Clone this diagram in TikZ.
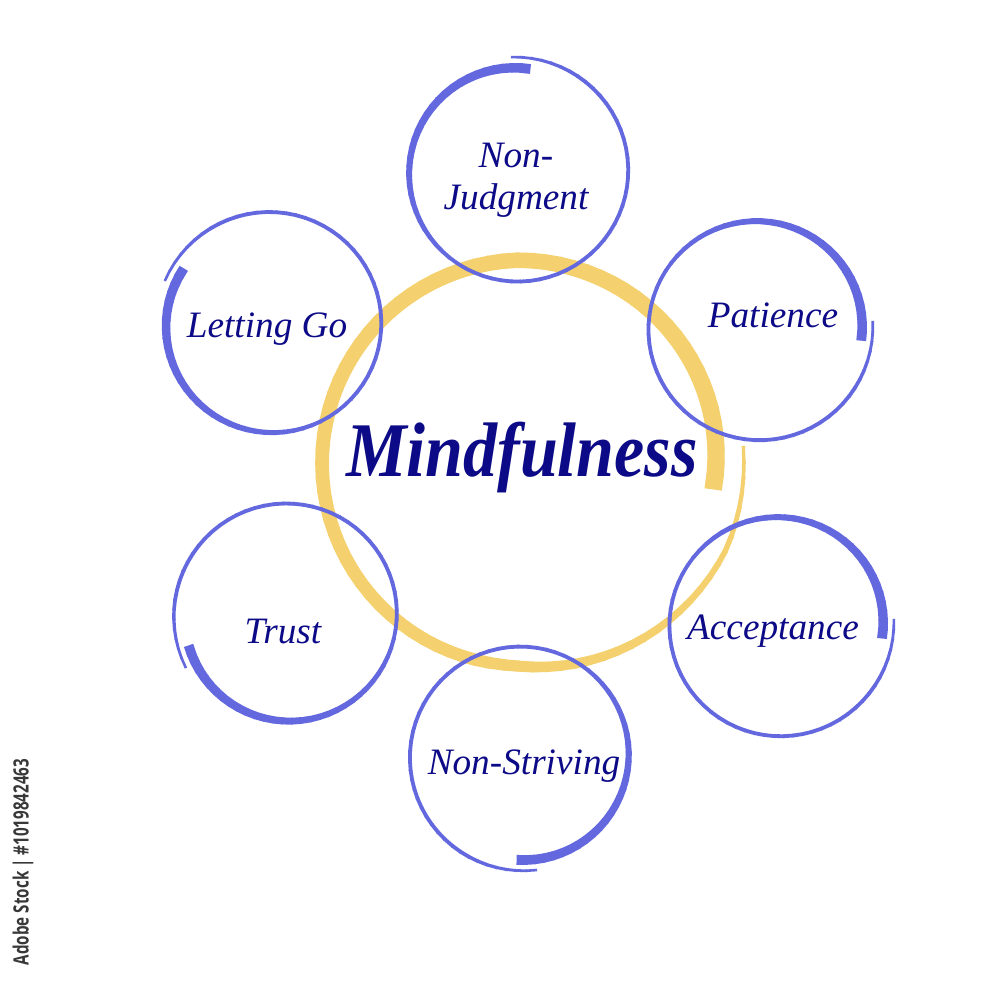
\documentclass[tikz,border=0pt]{standalone}
\usepackage{fontspec}
\setmainfont{Liberation Serif}
\setsansfont{Open Sans}
\usetikzlibrary{positioning}

\definecolor{ringblue}{RGB}{99,104,222}
\definecolor{ringgold}{RGB}{244,209,110}
\definecolor{inknavy}{RGB}{12,10,135}

\begin{document}
\begin{tikzpicture}[x=0.1mm, y=0.1mm,
	gold stroke/.style={ringgold, line cap=butt},
	blue stroke/.style={ringblue, line cap=butt},
	ring label/.style={text=inknavy, inner sep=0pt, font=\fontsize{10.6}{12}\selectfont\itshape},
	core label/.style={text=inknavy, inner sep=0pt, font=\fontsize{22}{24}\selectfont\bfseries\itshape},
	stock mark/.style={text=black!78, inner sep=0pt, font=\sffamily\bfseries\fontsize{6}{7}\selectfont}]
	\useasboundingbox[fill=white] (0,0) rectangle (1000,1000);
	
	% Anillo dorado (trazo de pincel que se va afinando)
	\foreach \ang in {0,4,...,368} {
		\pgfmathsetmacro{\rin}{190+13*min(\ang,100)/100+16*min(max(\ang-275,0),70)/70}
		\pgfmathsetmacro{\rout}{190+13*min(\ang+4.5,100)/100+16*min(max(\ang+4.5-275,0),70)/70}
		\pgfmathsetmacro{\wid}{(\ang<260 ? 17.5-0.02*\ang : 12.3-9.3*(\ang-260)/112)*0.2845}
		\draw[gold stroke, line width=\wid pt, shift={(525,537)}] (-8+\ang:\rin) -- (-8+\ang+4.5:\rout);
	}
	
	% Anillos azules alrededor
	\foreach \cx/\cy/\st in {516/828/82, 758/672/-7, 779/376/-8, 522/244/267, 288/385/197, 271/675/147} {
		\foreach \ang in {0,5,...,365} {
			\pgfmathsetmacro{\rin}{104+11*\ang/370}
			\pgfmathsetmacro{\rout}{104+11*(\ang+5.5)/370}
			\pgfmathsetmacro{\wid}{(\ang<150 ? 9.8-6*\ang/150 : (\ang>330 ? 3.8-1.2*(\ang-330)/35 : 3.8))*0.2845}
			\draw[blue stroke, line width=\wid pt, shift={(\cx,\cy)}] (\st+\ang:\rin) -- (\st+\ang+5.5:\rout);
		}
	}
	
	% Textos
	\node[core label, anchor=base] (mindful) at (522,523) {\scalebox{0.88}[1]{Mindfulness}};
	\node[ring label, align=center] (nonjudg) at (516,820) {Non-\\Judgment};
	\node[ring label, anchor=base] (patience) at (773,672) {Patience};
	\node[ring label, anchor=base] (accept) at (773,360) {Acceptance};
	\node[ring label, anchor=base] (nonstriv) at (524,225) {Non-Striving};
	\node[ring label, anchor=base] (trust) at (283,356) {Trust};
	\node[ring label, anchor=base] (letgo) at (267,662) {Letting Go};
	
	% Marca vertical
	\node[stock mark, rotate=90] (stockid) at (23,138) {\scalebox{0.72}[1]{Adobe Stock | \#1019842463}};
	
\end{tikzpicture}
\end{document}
